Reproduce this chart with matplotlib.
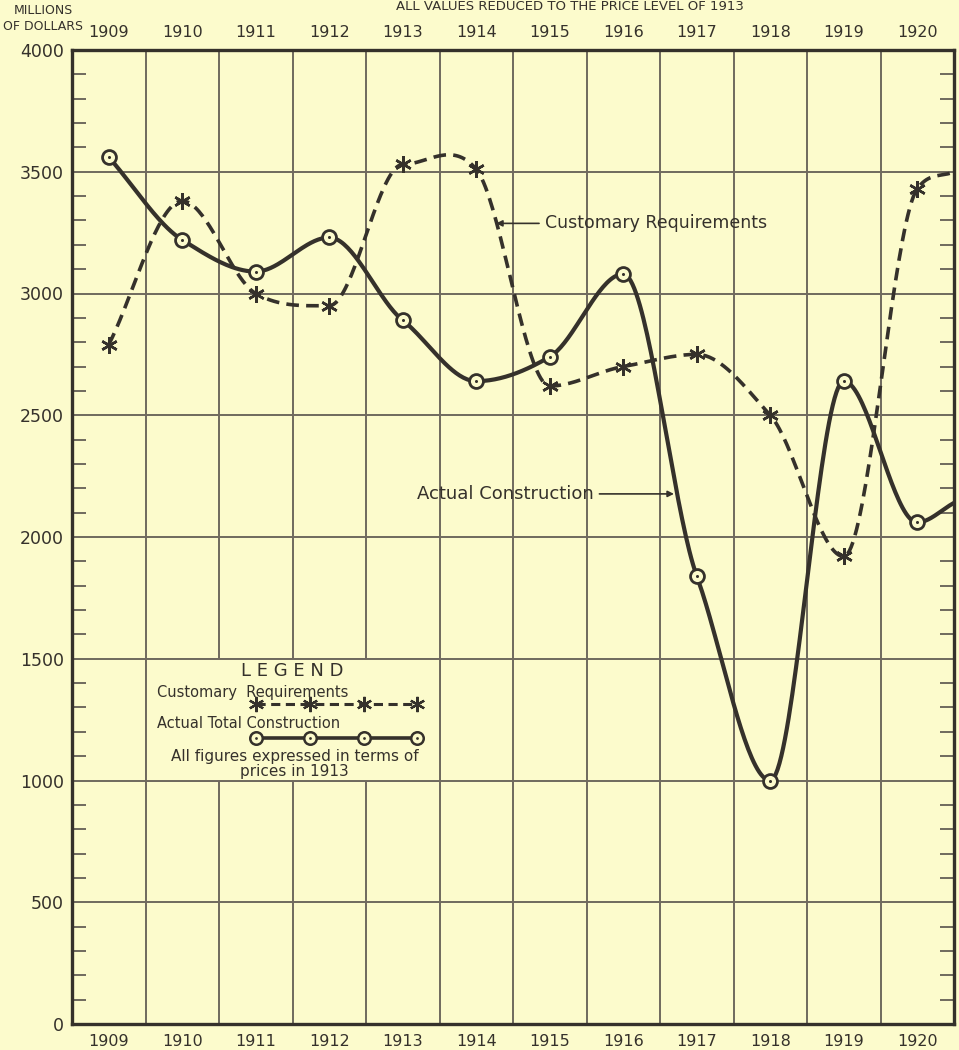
import numpy as np
import matplotlib.pyplot as plt
from matplotlib.patches import Rectangle

# Values (millions of dollars, 1913 prices)
years = [1909, 1910, 1911, 1912, 1913, 1914, 1915, 1916, 1917, 1918, 1919, 1920]
actual = [3560, 3220, 3090, 3230, 2890, 2640, 2740, 3080, 1840, 1000, 2640, 2060]
customary = [2790, 3380, 3000, 2950, 3530, 3510, 2620, 2700, 2750, 2500, 1920, 3430]
# where each curve meets the right edge of the chart
actual_edge = 2140
customary_edge = 3500

bg = '#fcfbcc'
ink = '#35312b'
gridc = '#6f6a5e'


def smooth(xs, ys, n=40):
    # cubic through the points, flat at the peaks, like the hand drawn curves
    xs = np.asarray(xs, float)
    ys = np.asarray(ys, float)
    h = np.diff(xs)
    d = np.diff(ys) / h
    m = np.zeros_like(ys)
    for k in range(1, len(ys) - 1):
        if d[k - 1] * d[k] > 0:
            m[k] = 0.8 * (ys[k + 1] - ys[k - 1]) / (xs[k + 1] - xs[k - 1])
    # short last piece up to the edge: keep it from overshooting
    lim = 3 * abs(d[-1])
    m[-2] = np.sign(m[-2]) * min(abs(m[-2]), lim)
    m[0] = d[0]
    m[-1] = d[-1]
    px, py = [], []
    for k in range(len(xs) - 1):
        t = np.linspace(0, 1, n, endpoint=False)
        h00 = 2 * t**3 - 3 * t**2 + 1
        h10 = t**3 - 2 * t**2 + t
        h01 = -2 * t**3 + 3 * t**2
        h11 = t**3 - t**2
        px.append(xs[k] + t * h[k])
        py.append(h00 * ys[k] + h10 * h[k] * m[k] + h01 * ys[k + 1] + h11 * h[k] * m[k + 1])
    px.append([xs[-1]])
    py.append([ys[-1]])
    return np.concatenate(px), np.concatenate(py)


plt.rcParams['font.family'] = ['DejaVu Sans']

fig = plt.figure(figsize=(9.59, 10.5), dpi=100, facecolor=bg)
ax = fig.add_axes([72 / 959, 26 / 1050, 882 / 959, 974 / 1050])
ax.set_facecolor(bg)

x0, x1 = years[0] - 0.5, years[-1] + 0.5
ax.set_xlim(x0, x1)
ax.set_ylim(0, 4000)

# grid
for xb in np.arange(x0 + 1, x1, 1):
    ax.axvline(xb, color=gridc, lw=1.4, zorder=1)
for yb in range(500, 4000, 500):
    ax.axhline(yb, color=gridc, lw=1.4, zorder=1)

for s in ax.spines.values():
    s.set_color(ink)
    s.set_linewidth(2.4)

ax.set_yticks(range(0, 4001, 500))
ax.set_yticks(range(0, 4001, 100), minor=True)
ax.tick_params(axis='y', which='major', length=0, pad=6, labelsize=12.5, labelcolor=ink)
ax.tick_params(axis='y', which='minor', direction='in', length=10, width=1.4,
               color=gridc, right=True, left=True)
ax.set_xticks(years)
ax.set_xticklabels([str(y) for y in years])
ax.tick_params(axis='x', length=0, pad=7, labelsize=11.5, labelcolor=ink,
               top=True, labeltop=True)

# curves
cx, cy = smooth(years + [x1], customary + [customary_edge])
ax.plot(cx, cy, color=ink, lw=2.6, dashes=(3.5, 2.0), zorder=3)
ax.plot(years, customary, ls='none', marker=(6, 2, 0), ms=12, mew=1.8,
        color=ink, zorder=4)

ax_, ay_ = smooth(years + [x1], actual + [actual_edge])
ax.plot(ax_, ay_, color=ink, lw=3.0, solid_capstyle='round', zorder=3)
ax.plot(years, actual, ls='none', marker='o', ms=10, mew=2.0, mfc=bg,
        mec=ink, zorder=5)
ax.plot(years, actual, ls='none', marker='o', ms=2.2, mew=0, color=ink, zorder=6)

# curve labels
ax.annotate('Customary Requirements', xy=(1914.27, 3288), xytext=(1914.93, 3288),
            va='center', ha='left', fontsize=12.5, color=ink,
            arrowprops=dict(arrowstyle='-|>', color=ink, lw=1.2,
                            mutation_scale=9, shrinkA=2, shrinkB=0))
ax.annotate('Actual Construction', xy=(1916.69, 2177), xytext=(1915.6, 2177),
            va='center', ha='right', fontsize=13, color=ink,
            arrowprops=dict(arrowstyle='-|>', color=ink, lw=1.2,
                            mutation_scale=9, shrinkA=2, shrinkB=0))

# legend box
ax.add_patch(Rectangle((1909.5, 1000), 4, 500, facecolor=bg, edgecolor=gridc,
                       lw=1.4, zorder=2))
ax.text(1911.5, 1450, 'L E G E N D', ha='center', va='center', fontsize=13,
        color=ink, zorder=7)
ax.text(1909.65, 1360, 'Customary  Requirements', ha='left', va='center',
        fontsize=10.5, color=ink, zorder=7)
leg_x = [1911.0, 1911.74, 1912.47, 1913.2]
ax.plot(leg_x, [1313] * 4, color=ink, lw=2.2, dashes=(3.0, 1.8), zorder=7)
ax.plot(leg_x, [1313] * 4, ls='none', marker=(6, 2, 0), ms=11, mew=1.6,
        color=ink, zorder=7)
ax.text(1909.65, 1235, 'Actual Total Construction', ha='left', va='center',
        fontsize=10.5, color=ink, zorder=7)
ax.plot(leg_x, [1173] * 4, color=ink, lw=2.6, zorder=7)
ax.plot(leg_x, [1173] * 4, ls='none', marker='o', ms=9, mew=1.8, mfc=bg,
        mec=ink, zorder=8)
ax.plot(leg_x, [1173] * 4, ls='none', marker='o', ms=2, mew=0, color=ink, zorder=9)
ax.text(1911.53, 1100, 'All figures expressed in terms of', ha='center',
        va='center', fontsize=11, color=ink, zorder=7)
ax.text(1911.53, 1038, 'prices in 1913', ha='center', va='center',
        fontsize=11, color=ink, zorder=7)

# header texts
fig.text(43 / 959, 1 - 11 / 1050, 'MILLIONS', ha='center', va='center',
         fontsize=9, color=ink)
fig.text(43 / 959, 1 - 26 / 1050, 'OF DOLLARS', ha='center', va='center',
         fontsize=9, color=ink)
fig.text(570 / 959, 1 - 7 / 1050, 'ALL VALUES REDUCED TO THE PRICE LEVEL OF 1913',
         ha='center', va='center', fontsize=9.5, color=ink)

fig.savefig('out.png', dpi=100, facecolor=bg)
